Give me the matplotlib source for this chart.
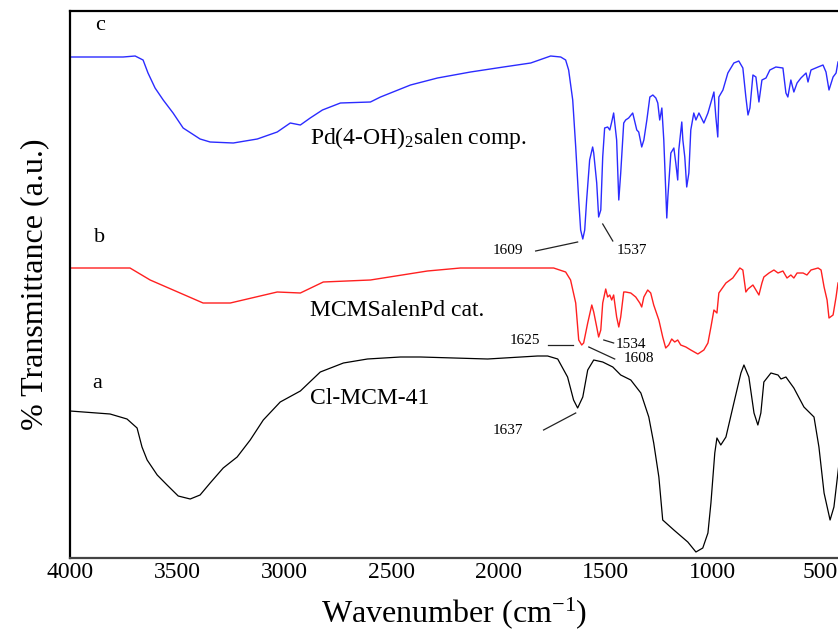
import matplotlib
matplotlib.use("Agg")
import matplotlib.pyplot as plt

plt.rcParams['font.family'] = ['Liberation Serif', 'DejaVu Serif']
plt.rcParams['mathtext.fontset'] = 'custom'
plt.rcParams['mathtext.rm'] = 'Liberation Serif'
plt.rcParams['mathtext.it'] = 'Liberation Serif:italic'

# ---- data: wavenumber (cm-1) and transmittance (a.u., offset spectra) ----
wn_c = [4000, 3752, 3696, 3659, 3636, 3603, 3565, 3519, 3472, 3393,
        3346, 3238, 3126, 3033, 2972, 2925, 2879, 2822, 2738, 2598,
        2551, 2481, 2411, 2285, 2131, 1977, 1850, 1757, 1710, 1687,
        1673, 1654, 1640, 1626, 1617, 1607, 1598, 1589, 1575, 1561,
        1556, 1542, 1533, 1523, 1514, 1505, 1491, 1481, 1472, 1463,
        1449, 1439, 1430, 1416, 1407, 1393, 1374, 1355, 1346, 1332,
        1322, 1308, 1294, 1280, 1266, 1257, 1248, 1238, 1229, 1220,
        1215, 1210, 1196, 1182, 1173, 1164, 1159, 1145, 1140, 1131,
        1122, 1112, 1103, 1089, 1079, 1065, 1042, 1023, 995, 986,
        977, 972, 953, 930, 902, 879, 860, 846, 836, 827,
        813, 799, 785, 771, 752, 734, 706, 673, 659, 650,
        636, 622, 607, 589, 565, 556, 542, 509, 486, 472,
        458, 439, 425, 416]
t_c = [501, 501, 502, 498, 485, 470, 458, 445, 430, 419,
       416, 415, 419, 426, 435, 433, 440, 448, 455, 456,
       461, 467, 473, 480, 486, 491, 495, 502, 501, 498,
       488, 458, 411, 358, 328, 319, 328, 358, 398, 411,
       405, 375, 341, 348, 401, 430, 431, 428, 436, 445,
       418, 358, 385, 435, 438, 440, 445, 428, 426, 411,
       418, 438, 461, 463, 460, 455, 438, 450, 418, 368,
       340, 361, 405, 410, 395, 378, 408, 436, 418, 401,
       371, 385, 428, 445, 438, 445, 435, 445, 466, 441,
       421, 461, 468, 485, 495, 497, 490, 461, 443, 450,
       483, 481, 456, 478, 480, 488, 491, 490, 465, 461,
       478, 466, 475, 480, 485, 476, 488, 491, 493, 486,
       468, 481, 485, 496]

wn_b = [4000, 3720, 3626, 3379, 3252, 3033, 2925, 2818, 2598, 2332,
        2178, 1743, 1687, 1664, 1640, 1626, 1612, 1603, 1584, 1565,
        1556, 1542, 1533, 1523, 1514, 1500, 1491, 1481, 1472, 1463,
        1449, 1439, 1430, 1416, 1407, 1383, 1360, 1341, 1332, 1322,
        1304, 1290, 1276, 1252, 1234, 1220, 1206, 1192, 1178, 1164,
        1150, 1126, 1103, 1070, 1042, 1023, 1009, 995, 981, 972,
        939, 907, 874, 860, 846, 836, 813, 785, 771, 762,
        738, 715, 696, 673, 654, 636, 622, 607, 579, 561,
        542, 509, 495, 481, 467, 458, 439, 425, 416]
t_b = [290, 290, 278, 255, 255, 266, 265, 276, 278, 287,
       290, 290, 286, 278, 255, 218, 213, 215, 235, 253,
       246, 231, 221, 228, 255, 269, 261, 263, 258, 263,
       241, 231, 241, 266, 266, 265, 261, 255, 251, 261,
       268, 265, 253, 238, 221, 210, 213, 219, 216, 218,
       213, 211, 208, 204, 208, 215, 231, 248, 245, 265,
       275, 280, 290, 288, 266, 269, 273, 263, 275, 281,
       285, 288, 285, 287, 280, 283, 280, 285, 285, 283,
       288, 290, 288, 271, 258, 240, 243, 261, 275]

wn_a = [4000, 3813, 3734, 3687, 3664, 3640, 3593, 3547, 3495, 3439,
        3393, 3346, 3285, 3220, 3159, 3098, 3019, 2925, 2832, 2724,
        2612, 2458, 2364, 2051, 1818, 1771, 1724, 1678, 1650, 1631,
        1607, 1584, 1556, 1514, 1467, 1430, 1383, 1336, 1299, 1276,
        1252, 1234, 1182, 1117, 1079, 1047, 1023, 1009, 991, 981,
        963, 939, 902, 869, 855, 832, 808, 790, 776, 762,
        729, 696, 682, 659, 622, 575, 528, 505, 481, 453,
        435, 411]
t_a = [147, 144, 139, 130, 111, 98, 83, 73, 62, 59,
       63, 75, 90, 101, 118, 138, 156, 167, 186, 195,
       199, 201, 201, 199, 202, 202, 199, 181, 158, 150,
       161, 188, 198, 196, 191, 183, 178, 165, 141, 115,
       81, 38, 28, 16, 6, 10, 25, 55, 105, 120,
       113, 121, 155, 185, 193, 181, 145, 133, 145, 176,
       185, 183, 179, 181, 170, 151, 141, 111, 65, 38,
       51, 95]

x_ticks = [4000, 3500, 3000, 2500, 2000, 1500, 1000, 500]

fig = plt.figure(figsize=(8.38, 6.35), dpi=100)
ax = fig.add_axes([70/838, 1-558/635, 1-70/838, (558-11)/635])

ax.plot(wn_c, t_c, color='#2b2bff', lw=1.0)
ax.plot(wn_b, t_b, color='#ff2020', lw=1.0)
ax.plot(wn_a, t_a, color='black', lw=0.9)

ax.set_xlim(4000, 416)
ax.set_ylim(0, 547)
ax.set_xticks(x_ticks)
ax.set_xticklabels([str(v) for v in x_ticks])
ax.set_yticks([])
ax.tick_params(axis='x', length=0, pad=3, labelsize=17)
for s in ['top', 'bottom', 'left']:
    ax.spines[s].set_linewidth(1.6)
ax.spines['bottom'].set_color('#444444')
ax.spines['right'].set_visible(False)

ax.set_xlabel('Wavenumber (cm$^{-1}$)', fontsize=23, labelpad=9)
ax.set_ylabel('% Transmittance (a.u.)', fontsize=23, labelpad=15)

# curve letters and names
ax.text(3860, 533, 'c', fontsize=16, ha='center', va='center')
ax.text(3860, 320, 'b', fontsize=16, ha='center', va='center')
ax.text(3874, 175, 'a', fontsize=16, ha='center', va='center')
ax.text(2879, 420, 'Pd(4-OH)$_{\\mathregular{2}}$salen comp.', fontsize=17, ha='left', va='center')
ax.text(2879, 248, 'MCMSalenPd cat.', fontsize=17, ha='left', va='center')
ax.text(2879, 160, 'Cl-MCM-41', fontsize=17, ha='left', va='center')

# peak labels
peak_labels = [('1609', 1958, 308, (1827, 307), (1631, 316)),
               ('1537', 1378, 307, (1514, 334), (1467, 317)),
               ('1625', 1878, 217, (1771, 213), (1654, 213)),
               ('1534', 1383, 214, (1509, 218), (1463, 215)),
               ('1608', 1346, 199, (1579, 211), (1458, 199)),
               ('1637', 1958, 128, (1790, 128), (1640, 145))]
for lab, tx, ty, p0, p1 in peak_labels:
    ax.text(tx, ty, lab, fontsize=11, ha='center', va='center')
    ax.plot([p0[0], p1[0]], [p0[1], p1[1]], color='#222222', lw=0.9)

fig.savefig('out.png', dpi=100)
